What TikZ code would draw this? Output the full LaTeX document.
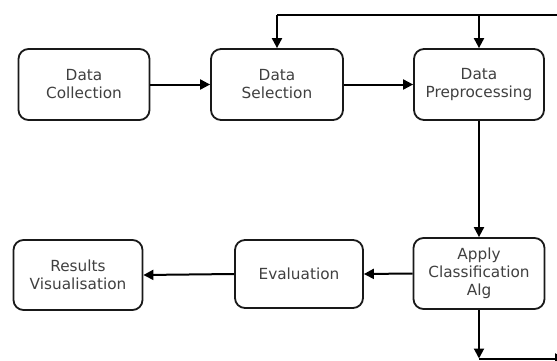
\documentclass[tikz,border=0pt]{standalone}
\usepackage{fontspec}
\setmainfont{DejaVu Sans}
\usetikzlibrary{arrows.meta}
\begin{document}
\begin{tikzpicture}[x=1pt,y=1pt,
  box/.style={draw=black!90, line width=1.8pt, rounded corners=10pt, fill=white,
    align=center, inner sep=1pt, text=black!75,
    font=\fontsize{15.3pt}{18pt}\selectfont},
  arr/.style={draw=black, line width=2pt, -{Triangle[length=10pt,width=10pt]}},
  ln/.style={draw=black, line width=2pt}]
\useasboundingbox (0,0) rectangle (557,360);
\node[box, minimum width=131pt, minimum height=71pt] (col) at (84,275.5) {Data\\Collection};
\node[box, minimum width=132pt, minimum height=71pt] (sel) at (277,275.5) {Data\\Selection};
\node[box, minimum width=130pt, minimum height=71pt] (pre) at (479,275.5) {Data\\Preprocessing};
\node[box, minimum width=129pt, minimum height=70pt] (res) at (78,85) {Results\\Visualisation};
\node[box, minimum width=128pt, minimum height=68pt] (eva) at (299,86) {Evaluation};
\node[box, minimum width=131pt, minimum height=71pt] (app) at (479,86.5) {Apply\\Classification\\Alg};
\coordinate (tl) at (277,345);
\coordinate (tm) at (479,345);
\coordinate (tr) at (560,345);
\coordinate (bc) at (479,1.5);
\coordinate (br) at (565,1.5);
\draw[arr] (col.east) -- (sel.west);
\draw[arr] (sel.east) -- (pre.west);
\draw[arr] (pre.south) -- (app.north);
\draw[arr] (app.west) -- (eva.east);
\draw[arr] (eva.west) -- (res.east);
\draw[ln] (tr) -- (tl);
\draw[arr] (tl) -- (sel.north);
\draw[arr] (tm) -- (pre.north);
\draw[arr] (app.south) -- (bc);
\draw[arr] (bc) -- (br);
\end{tikzpicture}
\end{document}
